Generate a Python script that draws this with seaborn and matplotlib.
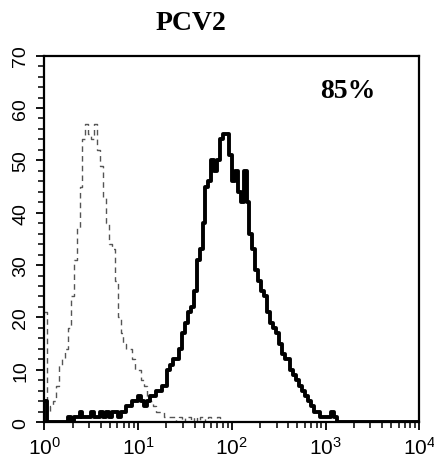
import matplotlib.pyplot as plt
import numpy as np
import pandas as pd
import seaborn as sns

# 128 channels over four log decades (32 channels per decade)
n_channels = 128
control_counts = [21, 2, 3, 4, 7, 11, 12, 14, 18, 24, 31, 37, 45, 54, 57, 55, 54, 57, 52, 49,
                  43, 38, 34, 33, 27, 20, 17, 15, 14, 14, 12, 10, 10, 8, 7, 5, 4, 3, 2, 2, 2,
                  1, 1, 1, 1,
                  0, 1, 0, 1, 1, 0, 1, 0, 1, 1, 0, 1, 0, 0, 1, 0] + [0] * 67
pcv2_counts = [4,
               0, 0, 0, 0, 0, 0, 0,
               1, 0, 1, 1, 2, 1, 1, 1, 2, 1, 1, 2, 1, 2, 1, 2, 2, 1, 2, 2, 3,
               3, 4, 4, 5, 4, 3, 4, 5, 5, 6, 6, 7, 7,
               10, 11, 12, 12, 14, 17, 19, 21, 22, 25, 31, 33, 38, 45, 46, 50, 48, 50,
               54, 55, 55, 51, 46, 48, 44, 42, 48, 42, 36, 33, 29, 27, 25, 24, 21, 19, 18, 17,
               15, 13, 12, 12, 10, 9, 8, 7, 6, 5, 4, 3, 2, 2, 1, 1, 1, 1, 2, 1] + [0] * 28
x_ticks = [1, 10, 100, 1000, 10000]
x_ticklabels = ['$10^{0}$', '$10^{1}$', '$10^{2}$', '$10^{3}$', '$10^{4}$']
y_ticks = [0, 10, 20, 30, 40, 50, 60, 70]
title = 'PCV2'
positive_label = '85%'

centers = 10 ** ((np.arange(n_channels) + 0.5) / 32)
df = pd.DataFrame({'fl': np.concatenate([centers, centers]),
                   'count': control_counts + pcv2_counts,
                   'sample': ['control'] * n_channels + ['PCV2'] * n_channels})

sns.set_style('ticks')
plt.rcParams['font.family'] = ['Liberation Sans', 'DejaVu Sans']
plt.rcParams['mathtext.fontset'] = 'custom'
plt.rcParams['mathtext.rm'] = 'Liberation Sans'
plt.rcParams['mathtext.it'] = 'Liberation Sans'
plt.rcParams['text.color'] = 'black'
plt.rcParams['xtick.color'] = 'black'
plt.rcParams['ytick.color'] = 'black'

fig = plt.figure(figsize=(4.35, 4.64), dpi=100)
ax = fig.add_axes([0.102, 0.088, 0.862, 0.790])

sns.histplot(data=df[df['sample'] == 'control'], x='fl', weights='count', bins=n_channels,
             binrange=(0, 4), log_scale=True, element='step', fill=False,
             color='#555555', linewidth=1.0, linestyle=(0, (4, 3)), ax=ax)
sns.histplot(data=df[df['sample'] == 'PCV2'], x='fl', weights='count', bins=n_channels,
             binrange=(0, 4), log_scale=True, element='step', fill=False,
             color='black', linewidth=2.8, ax=ax)

ax.set_xlim(1, 10000)
ax.set_ylim(0, 70)
ax.set_xticks(x_ticks)
ax.set_xticklabels(x_ticklabels, fontsize=15)
ax.set_yticks(y_ticks)
ax.set_yticklabels([str(v) for v in y_ticks], fontsize=14, rotation=90, va='center')
ax.set_yticks(np.arange(0, 71, 2), minor=True)
ax.tick_params(axis='both', which='major', length=6, width=1.3, direction='out')
ax.tick_params(axis='both', which='minor', length=4, width=1.1, direction='out')
ax.tick_params(axis='y', pad=5)
ax.tick_params(axis='x', pad=4)
ax.set_xlabel('')
ax.set_ylabel('')
for side in ['left', 'right', 'top', 'bottom']:
    ax.spines[side].set_visible(True)
    ax.spines[side].set_linewidth(1.6)
    ax.spines[side].set_color('black')

fig.text(0.44, 0.95, title, ha='center', va='center', fontsize=20, fontweight='bold',
         family='Liberation Serif')
ax.text(0.81, 0.905, positive_label, transform=ax.transAxes, ha='center', va='center',
        fontsize=20, fontweight='bold', family='Liberation Serif')

fig.savefig('out.png', dpi=100)
